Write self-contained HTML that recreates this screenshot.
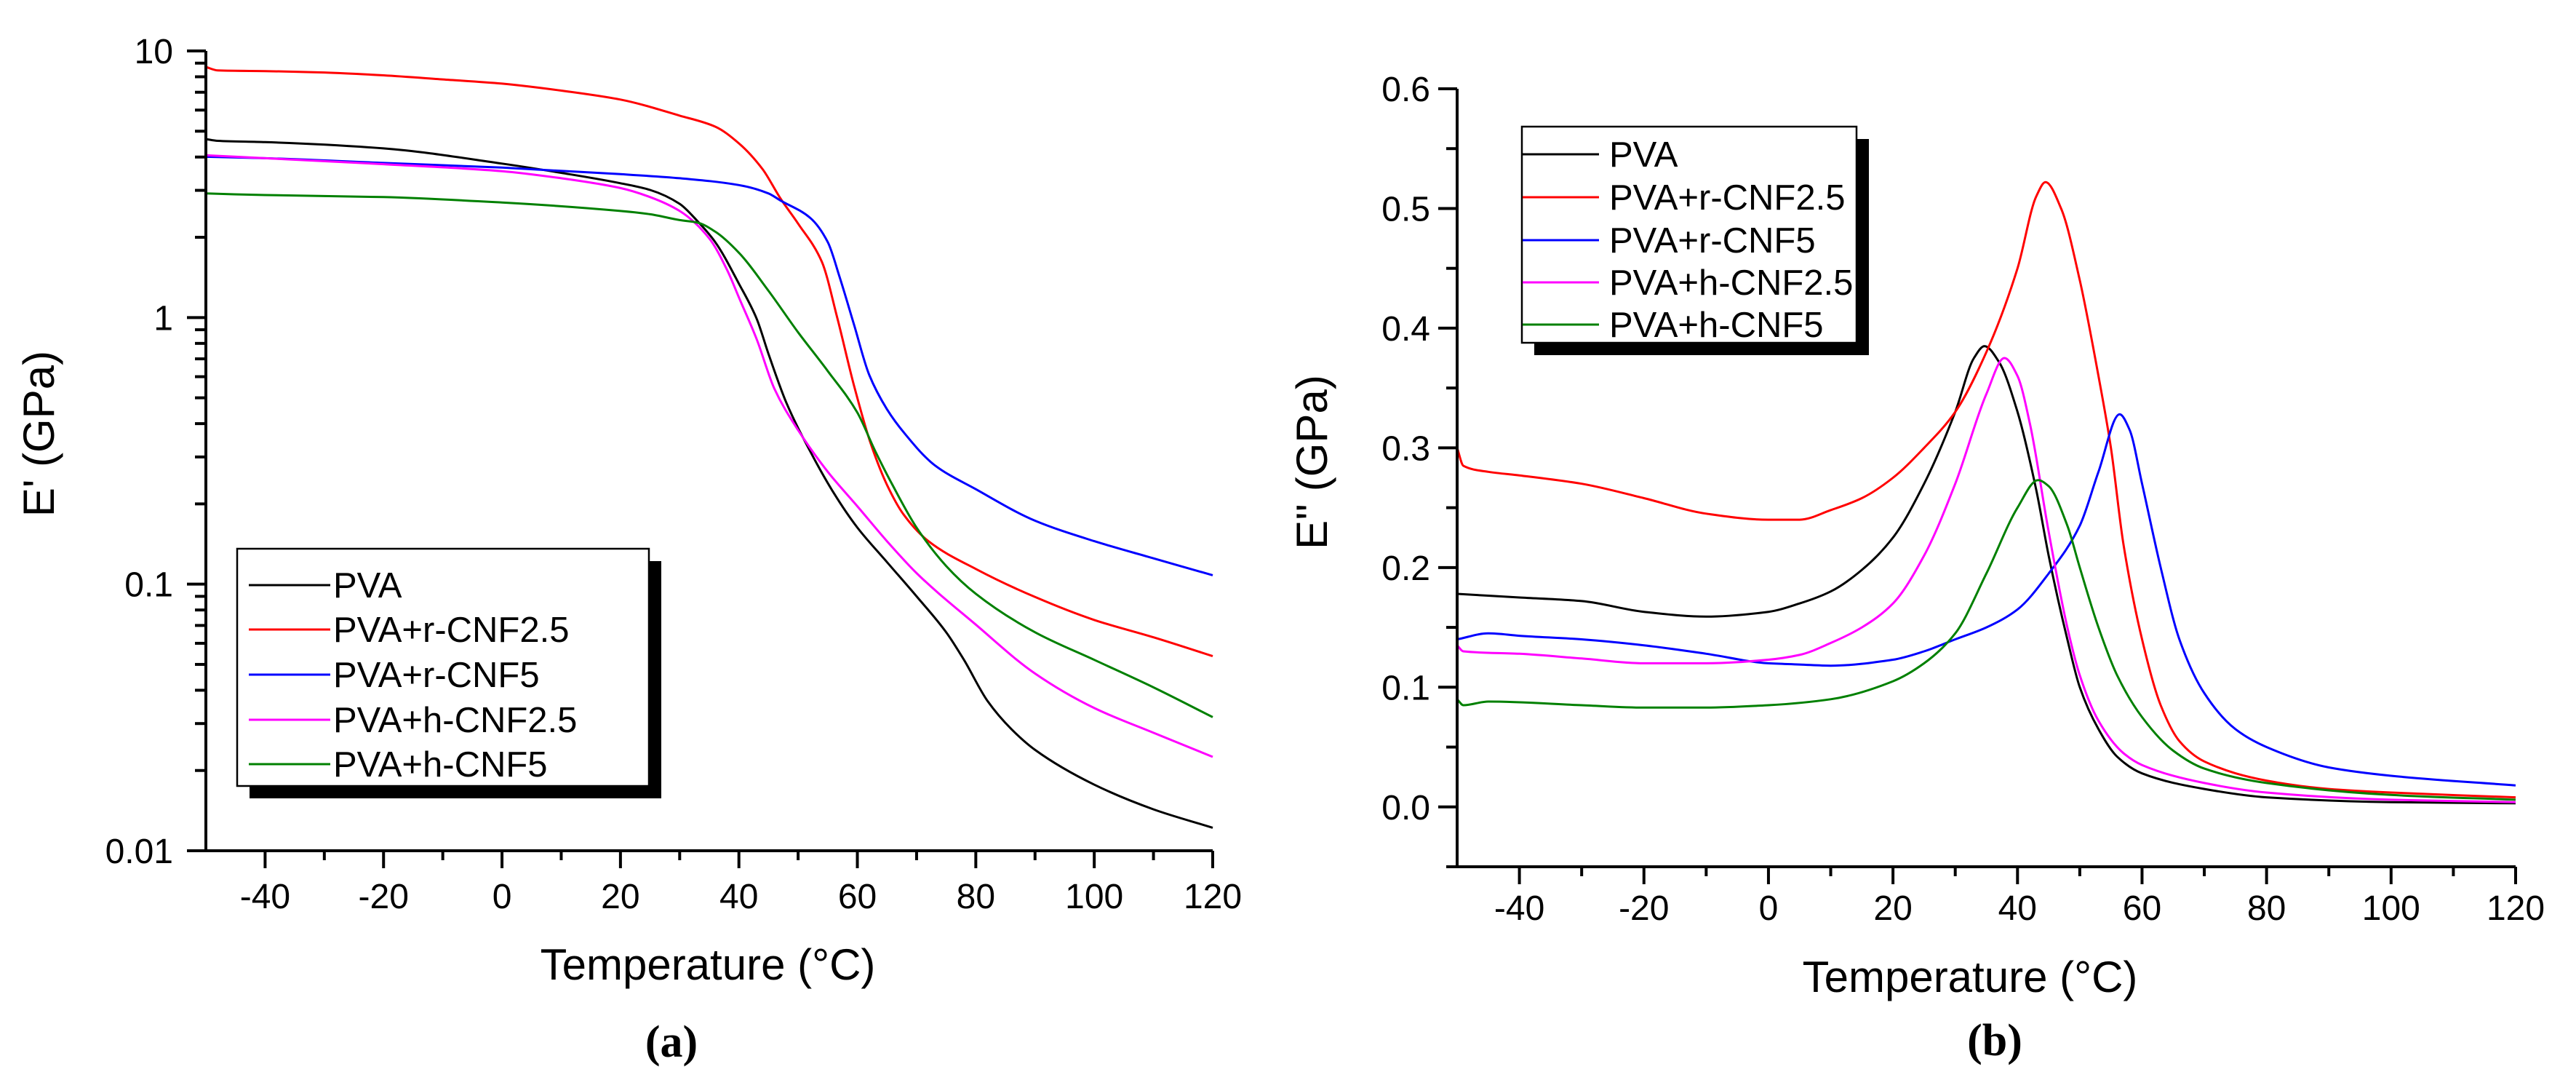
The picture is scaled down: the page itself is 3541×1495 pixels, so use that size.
<!DOCTYPE html>
<html><head><meta charset="utf-8">
<style>
html,body{margin:0;padding:0;background:#fff;}
svg{display:block;}
text{font-family:"Liberation Sans",sans-serif;fill:#000;}
</style></head>
<body>
<svg id="fig" width="3541" height="1495" viewBox="0 0 3541 1495" xmlns="http://www.w3.org/2000/svg">
<rect width="3541" height="1495" fill="#fff"/>
<g id="panelA"></g>
<g id="panelB"></g>
</svg>
<script>
// ---------- Panel (a) data: E' (GPa), log scale ----------
const aBlackT = [-50,-48,-40,-20,0,10,20,25,30,33,36,40,43,45,48,52,56,60,65,70,75,78,82,86,90,100,110,120];
const aBlackV = [4.67,4.6,4.55,4.31,3.78,3.49,3.19,3.01,2.67,2.30,1.92,1.34,0.99,0.73,0.48,0.316,0.220,0.163,0.121,0.090,0.066,0.052,0.0364,0.0286,0.0239,0.0177,0.0143,0.0122];
const aRedT = [-50,-48,-40,-30,-20,-10,0,10,20,30,36,40,44,47,50,54,56.6,59.4,62.2,65,67.7,72,80,90,100,110,120];
const aRedV = [8.71,8.45,8.40,8.30,8.10,7.82,7.54,7.10,6.57,5.72,5.2,4.5,3.6,2.8,2.25,1.62,1.0,0.56,0.34,0.236,0.184,0.145,0.114,0.0895,0.0734,0.0632,0.0537];
const aBlueT = [-50,-40,-20,0,20,30,40,45,47,52,55,57,59.5,62,65,68,73,80,90,100,110,120];
const aBlueV = [4.01,3.96,3.80,3.65,3.45,3.33,3.14,2.92,2.75,2.37,1.92,1.42,0.93,0.61,0.453,0.367,0.280,0.227,0.173,0.145,0.125,0.108];
const aMagT = [-50,-40,-20,0,10,20,25,30,35,38,40,43,46,50,55,60,65,70,80,90,100,110,120];
const aMagV = [4.06,3.96,3.76,3.54,3.33,3.06,2.83,2.51,1.98,1.51,1.19,0.83,0.54,0.378,0.264,0.196,0.145,0.110,0.0705,0.0462,0.0343,0.0277,0.0225];
const aGreenT = [-50,-40,-20,0,20,25,30,33,36,40,45,50,55,60,63,66,70,75,80,90,100,110,120];
const aGreenV = [2.92,2.88,2.83,2.70,2.51,2.44,2.32,2.27,2.10,1.75,1.26,0.88,0.63,0.440,0.316,0.234,0.163,0.117,0.092,0.066,0.052,0.041,0.0317];
const aYTicks = [0.01,0.1,1,10];
const aYLabels = ["0.01","0.1","1","10"];

// ---------- Panel (b) data: E'' (GPa), linear ----------
const bBlackT = [-50,-40,-30,-20,-10,0,5,10,15,20,25,30,33,34.7,37,40,43,45,48,50,53,56,60,70,80,100,120];
const bBlackV = [0.178,0.175,0.172,0.163,0.159,0.163,0.170,0.180,0.198,0.225,0.27,0.33,0.375,0.385,0.372,0.33,0.265,0.21,0.14,0.10,0.065,0.042,0.028,0.015,0.008,0.004,0.003];
const bRedT = [-50,-49,-45,-40,-30,-20,-10,0,5,10,15,20,25,30,35,40,43,44.5,47,50,53,55,57,60,63,66,70,80,90,100,120];
const bRedV = [0.30,0.285,0.28,0.277,0.27,0.258,0.245,0.24,0.24,0.248,0.258,0.275,0.30,0.33,0.38,0.45,0.51,0.522,0.50,0.44,0.36,0.30,0.22,0.14,0.085,0.055,0.038,0.022,0.015,0.012,0.008];
const bBlueT = [-50,-45,-40,-30,-20,-10,0,5,10,20,25,30,35,40,45,50,53,56.4,58,60,63,66,70,75,80,90,100,120];
const bBlueV = [0.14,0.145,0.143,0.14,0.135,0.128,0.12,0.119,0.118,0.123,0.13,0.14,0.15,0.165,0.195,0.235,0.28,0.328,0.315,0.27,0.20,0.14,0.095,0.065,0.05,0.033,0.026,0.018];
const bMagT = [-50,-49,-40,-30,-20,-10,0,5,10,15,20,25,30,35,37.9,40,42,45,48,50,53,57,60,70,80,100,120];
const bMagV = [0.135,0.13,0.128,0.124,0.12,0.12,0.123,0.127,0.137,0.15,0.17,0.21,0.27,0.345,0.375,0.36,0.32,0.23,0.15,0.11,0.072,0.045,0.035,0.02,0.012,0.006,0.004];
const bGreenT = [-50,-49,-45,-30,-20,-10,0,10,20,25,30,35,40,43.3,45,48,50,53,56,60,65,70,80,100,120];
const bGreenV = [0.09,0.085,0.088,0.085,0.083,0.083,0.085,0.09,0.105,0.12,0.145,0.195,0.25,0.273,0.268,0.235,0.20,0.15,0.11,0.075,0.047,0.032,0.02,0.01,0.006];
const bYTicks = [0.0,0.1,0.2,0.3,0.4,0.5,0.6];
const bYLabels = ["0.0","0.1","0.2","0.3","0.4","0.5","0.6"];

const xTicks = [-40,-20,0,20,40,60,80,100,120];
const xLabels = ["-40","-20","0","20","40","60","80","100","120"];
const seriesNames = ["PVA","PVA+r-CNF2.5","PVA+r-CNF5","PVA+h-CNF2.5","PVA+h-CNF5"];
const seriesColors = ["#000000","#ff0000","#0000ff","#ff00ff","#008000"];

const NS = "http://www.w3.org/2000/svg";
function mk(tag, attrs, parent){
  const e = document.createElementNS(NS, tag);
  for (const k in attrs) e.setAttribute(k, attrs[k]);
  parent.appendChild(e);
  return e;
}
// monotone cubic (Fritsch-Carlson) in screen space
function pathFrom(T, V, sx, sy){
  const x = T.map(sx), y = V.map(sy), n = x.length;
  const d = [], m = new Array(n);
  for (let i=0;i<n-1;i++) d.push((y[i+1]-y[i])/(x[i+1]-x[i]));
  m[0]=d[0]; m[n-1]=d[n-2];
  for (let i=1;i<n-1;i++){
    if (d[i-1]*d[i]<=0) m[i]=0;
    else { const h0=x[i]-x[i-1], h1=x[i+1]-x[i];
      const w1=2*h1+h0, w2=h1+2*h0;
      m[i]=(w1+w2)/(w1/d[i-1]+w2/d[i]); }
  }
  let s = "M"+x[0].toFixed(1)+","+y[0].toFixed(1);
  for (let i=0;i<n-1;i++){
    const h=(x[i+1]-x[i])/3;
    s += " C"+(x[i]+h).toFixed(1)+","+(y[i]+m[i]*h).toFixed(1)+" "+(x[i+1]-h).toFixed(1)+","+(y[i+1]-m[i+1]*h).toFixed(1)+" "+x[i+1].toFixed(1)+","+y[i+1].toFixed(1);
  }
  return s;
}

function drawPanel(g, cfg){
  const {x0,x1,yTop,yBot,sx,sy,yTicks,yLabels,yMinor,series,legend,yTitle,yTitleX,yTitleY,xTitleX,xTitleY,capX,capY,cap,xLabY,yLabR} = cfg;
  series.forEach((s,i)=>{
    const p = mk("path",{d:pathFrom(s.T,s.V,sx,sy),fill:"none",stroke:seriesColors[i],"stroke-width":3,"stroke-linejoin":"round"},g);
    
    
  });
  const ax = mk("path",{d:`M${x0},${yTop} V${yBot} H${x1}`,fill:"none",stroke:"#000","stroke-width":4},g);
  
  
  for (let t=-50;t<=120;t+=10){
    const len = (t%20===0)?24:(t===-50?0:13);
    if (len>0) mk("line",{x1:sx(t),x2:sx(t),y1:yBot,y2:yBot+len,stroke:"#000","stroke-width":4},g);
  }
  xTicks.forEach((t,i)=>{
    const tx = mk("text",{x:sx(t),y:xLabY,"font-size":48,"text-anchor":"middle"},g);
    tx.textContent = xLabels[i];
    
    
  });
  yMinor.forEach(v=>{ mk("line",{x1:x0-15,x2:x0,y1:sy(v),y2:sy(v),stroke:"#000","stroke-width":4},g); });
  yTicks.forEach((v,i)=>{
    mk("line",{x1:x0-26,x2:x0,y1:sy(v),y2:sy(v),stroke:"#000","stroke-width":4},g);
    const tx = mk("text",{x:yLabR,y:sy(v)+17,"font-size":48,"text-anchor":"end"},g);
    tx.textContent = yLabels[i];
    
    
  });
  const yt = mk("text",{x:yTitleX,y:yTitleY,"font-size":60,"text-anchor":"middle",transform:`rotate(-90 ${yTitleX} ${yTitleY})`,"dominant-baseline":"middle"},g);
  yt.textContent = yTitle;
  
  
  const xt = mk("text",{x:xTitleX,y:xTitleY+21,"font-size":60,"text-anchor":"middle"},g);
  xt.textContent = "Temperature (°C)";
  
  
  const ct = mk("text",{x:capX,y:capY+20,"font-size":62,"font-weight":"bold","text-anchor":"middle",style:"font-family:'Liberation Serif',serif"},g);
  ct.textContent = cap;
  
  
  const lg = mk("g",{},g);
  
  
  mk("rect",{x:legend.l+17,y:legend.t+17,width:legend.r-legend.l,height:legend.b-legend.t,fill:"#000"},lg);
  mk("rect",{x:legend.l,y:legend.t,width:legend.r-legend.l,height:legend.b-legend.t,fill:"#fff",stroke:"#000","stroke-width":2.5},lg);
  seriesNames.forEach((n,i)=>{
    const y = legend.rows[i];
    const e = mk("g",{},lg);
    
    
    mk("line",{x1:legend.lx0,x2:legend.lx1,y1:y,y2:y,stroke:seriesColors[i],"stroke-width":3},e);
    const t = mk("text",{x:legend.tx,y:y+17,"font-size":49},e);
    t.textContent = n;
  });
}

(function(){
  const x0=283,x1=1667,yTop=70,yBot=1169;
  const sx = t => x0 + (t+50)*(x1-x0)/170;
  const sy = v => yBot - (Math.log10(v)+2)*(yBot-yTop)/3;
  const minor=[]; [0.01,0.1,1].forEach(d=>{for(let k=2;k<=9;k++) minor.push(d*k);});
  drawPanel(document.getElementById("panelA"),{
    x0,x1,yTop,yBot,sx,sy,yTicks:aYTicks,yLabels:aYLabels,yMinor:minor,
    series:[{T:aBlackT,V:aBlackV},{T:aRedT,V:aRedV},{T:aBlueT,V:aBlueV},{T:aMagT,V:aMagV},{T:aGreenT,V:aGreenV}],
    legend:{l:326,r:892,t:754,b:1080,rows:[804,865,927,989,1050],lx0:342,lx1:454,tx:458},
    yTitle:"E' (GPa)",yTitleX:58,yTitleY:596,xTitleX:973,xTitleY:1325,capX:923,capY:1432,cap:"(a)",
    xLabY:1248,yLabR:238
  });
})();
(function(){
  const x0=2003,x1=3458,yTop=122,yBot=1191;
  const sx = t => x0 + (t+50)*(x1-x0)/170;
  const sy = v => yBot - (v+0.05)*(yBot-yTop)/0.65;
  const minor=[]; for(let v=-0.05; v<0.6; v+=0.1) minor.push(v);
  drawPanel(document.getElementById("panelB"),{
    x0,x1,yTop,yBot,sx,sy,yTicks:bYTicks,yLabels:bYLabels,yMinor:minor,
    series:[{T:bBlackT,V:bBlackV},{T:bRedT,V:bRedV},{T:bBlueT,V:bBlueV},{T:bMagT,V:bMagV},{T:bGreenT,V:bGreenV}],
    legend:{l:2092,r:2552,t:174,b:471,rows:[212,271,330,388,446],lx0:2093,lx1:2198,tx:2212},
    yTitle:"E'' (GPa)",yTitleX:1808,yTitleY:635,xTitleX:2708,xTitleY:1342,capX:2742,capY:1430,cap:"(b)",
    xLabY:1264,yLabR:1966
  });
})();
</script>
</body></html>
